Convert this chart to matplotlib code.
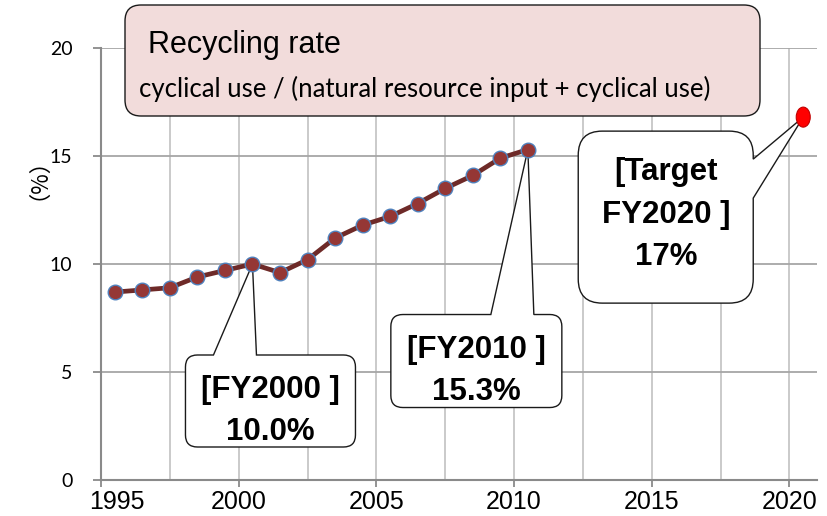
import matplotlib
matplotlib.use("Agg")
import matplotlib.pyplot as plt
from matplotlib.path import Path
from matplotlib.patches import PathPatch, Ellipse
from matplotlib.transforms import IdentityTransform, ScaledTranslation

# ── Data ──────────────────────────────────────────────────────────────────────

years = list(range(1995, 2011))
rate = [8.7, 8.8, 8.9, 9.4, 9.7, 10.0, 9.6, 10.2,
        11.2, 11.8, 12.2, 12.8, 13.5, 14.1, 14.9, 15.3]
target_year = 2020
target_rate = 16.8

xtick_labels = ["1995", "2000", "2005", "2010", "2015", "2020"]
ytick_values = [0, 5, 10, 15, 20]

title_main = "Recycling rate"
title_sub = "cyclical use / (natural resource input + cyclical use)"
ylabel = "（%）"

callout_2000 = ["[FY2000 ]", "10.0%"]
callout_2010 = ["[FY2010 ]", "15.3%"]
callout_target = ["[Target", "FY2020 ]", "17%"]

# ── Style ─────────────────────────────────────────────────────────────────────

W, H = 827, 516
ARIAL = ["Liberation Sans", "DejaVu Sans"]
HUMAN = ["Lato", "DejaVu Sans"]
CJK = ["Noto Sans CJK JP", "DejaVu Sans"]
LINE_COL = "#6e2a28"
MARK_FACE = "#953735"
MARK_EDGE = "#4f81bd"
HGRID = "#a6a6a6"
VGRID = "#c6c6c6"
SPINE = "#8a8a8a"
TITLE_BG = "#f2dcdb"

fig = plt.figure(figsize=(W / 100, H / 100), dpi=100)
ax = fig.add_axes([101 / W, 36 / H, (817 - 101) / W, 432 / H])

ax.set_xlim(1994.5, 2020.5)
ax.set_ylim(0, 20)

# ticks / grid
major_x = [1994.5 + 5 * i for i in range(len(xtick_labels))]
minor_x = [1997 + 5 * i for i in range(len(xtick_labels) - 1)]
ax.set_xticks(major_x)
ax.set_xticklabels(xtick_labels, family=ARIAL, fontsize=18)
ax.set_xticks(minor_x, minor=True)
ax.set_yticks(ytick_values)
ax.set_yticklabels([str(v) for v in ytick_values], family=HUMAN, fontsize=14)

ax.tick_params(axis="x", which="major", length=5, width=1.3, color=SPINE, pad=2.5)
ax.tick_params(axis="x", which="minor", length=0)
ax.tick_params(axis="y", length=5.5, width=1.3, color=SPINE, pad=15)

ax.grid(axis="y", color=HGRID, linewidth=1.3, zorder=0)
ax.grid(axis="x", which="both", color=VGRID, linewidth=1.3, zorder=0)
ax.set_axisbelow(True)

for s in ["top", "right"]:
    ax.spines[s].set_visible(False)
for s in ["left", "bottom"]:
    ax.spines[s].set_color(SPINE)
    ax.spines[s].set_linewidth(1.5)

# first label sits on the 1995 point, not on the tick
lab0 = ax.get_xticklabels()[0]
lab0.set_transform(lab0.get_transform() + ScaledTranslation(0.16, 0, fig.dpi_scale_trans))

# ── Series ────────────────────────────────────────────────────────────────────

ax.plot(years, rate, color=LINE_COL, linewidth=3.4, marker="o", markersize=10.5,
        markerfacecolor=MARK_FACE, markeredgecolor=MARK_EDGE, markeredgewidth=1.0,
        zorder=6, clip_on=False)

# target point: slightly tall red ellipse
tx, ty = ax.transData.transform((target_year, target_rate))
ax.add_patch(Ellipse((tx, ty), 14, 20, transform=IdentityTransform(),
                     facecolor="#ff0000", edgecolor="#c00000", linewidth=0.8,
                     zorder=6, clip_on=False))

# ── Callouts ──────────────────────────────────────────────────────────────────

def bubble(x0, y0, x1, y1, r, side=None, b0=0, b1=0, tip=None):
    v, c = [], []

    def add(pt, code):
        v.append(pt)
        c.append(code)

    add((x0 + r, y0), Path.MOVETO)
    add((x1 - r, y0), Path.LINETO)
    add((x1, y0), Path.CURVE3); add((x1, y0 + r), Path.CURVE3)
    if side == "right":
        add((x1, b0), Path.LINETO); add(tip, Path.LINETO); add((x1, b1), Path.LINETO)
    add((x1, y1 - r), Path.LINETO)
    add((x1, y1), Path.CURVE3); add((x1 - r, y1), Path.CURVE3)
    if side == "top":
        add((b1, y1), Path.LINETO); add(tip, Path.LINETO); add((b0, y1), Path.LINETO)
    add((x0 + r, y1), Path.LINETO)
    add((x0, y1), Path.CURVE3); add((x0, y1 - r), Path.CURVE3)
    add((x0, y0 + r), Path.LINETO)
    add((x0, y0), Path.CURVE3); add((x0 + r, y0), Path.CURVE3)
    add((x0 + r, y0), Path.CLOSEPOLY)
    return Path(v, c)


def callout(xy, lines, box, r, side, base, text_dx, text_dy0, step=42.5):
    px, py = ax.transData.transform(xy)
    dx0, dx1, dy0, dy1 = box
    if side == "top":
        b0, b1 = px + base[0], px + base[1]
    else:
        b0, b1 = py + base[0], py + base[1]
    path = bubble(px + dx0, py + dy0, px + dx1, py + dy1, r, side, b0, b1, (px, py))
    ax.add_patch(PathPatch(path, transform=IdentityTransform(), facecolor="white",
                           edgecolor="#1a1a1a", linewidth=1.0, zorder=4, clip_on=False))
    for i, s in enumerate(lines):
        ax.text(px + text_dx, py + text_dy0 - i * step, s, transform=IdentityTransform(),
                ha="center", va="center", family=ARIAL, fontweight="bold",
                fontsize=22.5, color="black", zorder=5)


i2000 = years.index(2000)
i2010 = years.index(2010)
callout((years[i2000], rate[i2000]), callout_2000, (-67, 103, -183, -91), 12,
        "top", (-39, 4), 18, -126)
callout((years[i2010], rate[i2010]), callout_2010, (-137, 34, -258, -165), 12,
        "top", (-37, 6), -51, -200)
callout((target_year, target_rate), callout_target, (-225, -50, -186, -14), 24,
        "right", (-81, -42), -137, -55)

# ── Title box ─────────────────────────────────────────────────────────────────

tpath = bubble(125, H - 116, 760, H - 5, 16)
ax.add_patch(PathPatch(tpath, transform=IdentityTransform(), facecolor=TITLE_BG,
                       edgecolor="#1a1a1a", linewidth=1.0, zorder=4, clip_on=False))
ax.text(148, H - 53, title_main, transform=IdentityTransform(), ha="left",
        va="baseline", family=ARIAL, fontsize=22, color="black", zorder=5)
ax.text(139, H - 97, title_sub, transform=IdentityTransform(), ha="left",
        va="baseline", family=HUMAN, fontsize=18.5, color="black", zorder=5)

fig.text(27 / W, 1 - 168 / H, ylabel, rotation=90, ha="center", va="center",
         family=CJK, fontsize=16)

fig.savefig("out.png", dpi=100)
